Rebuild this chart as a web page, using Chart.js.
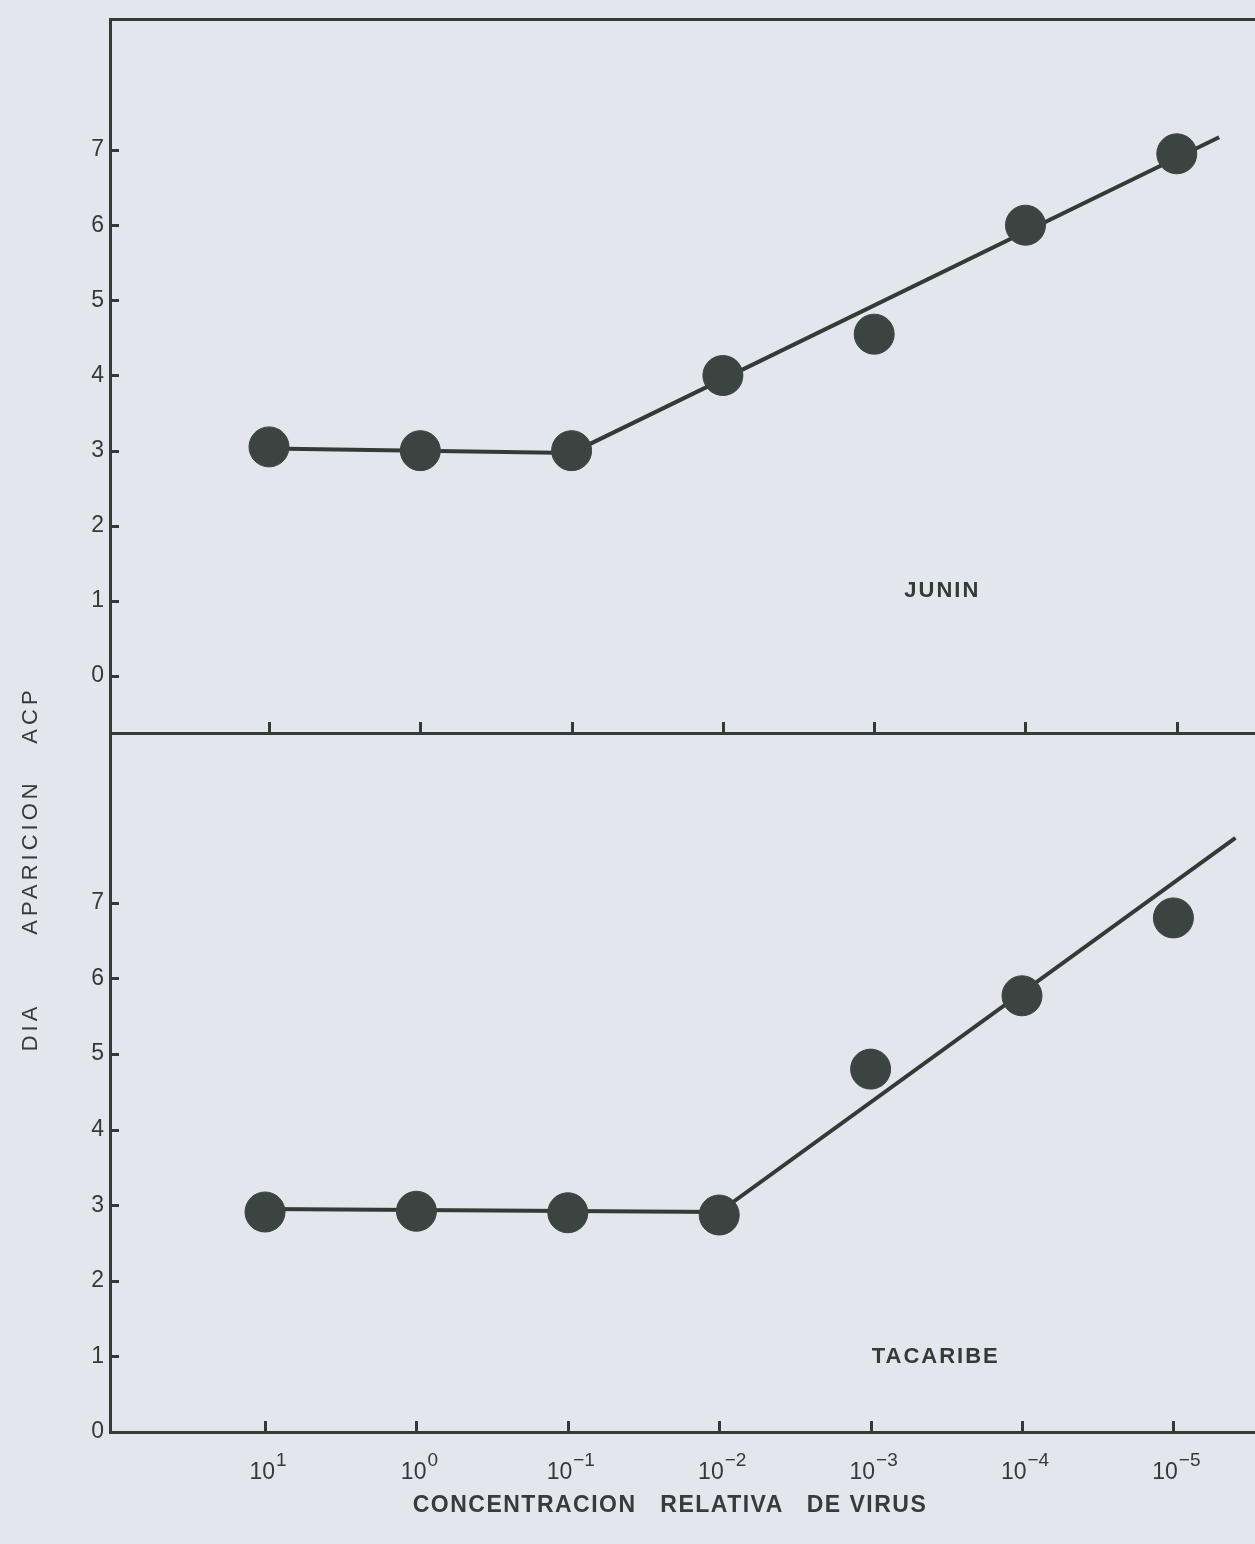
<!DOCTYPE html>
<html>
<head>
<meta charset="utf-8">
<title>Día de aparición de ACP según concentración relativa de virus</title>
<script src="https://cdn.jsdelivr.net/npm/chart.js@4.4.1/dist/chart.umd.min.js"></script>
<style>
  html, body { margin: 0; padding: 0; background: #e3e6ed; }
  #lamina { position: relative; width: 1255px; height: 1544px; background: #e3e6ed; overflow: hidden;
            font-family: "Liberation Sans", Arial, sans-serif; color: #353c39; }
  #lamina canvas { position: absolute; left: 0; }
  #cJunin { top: 0; }
  #cTacaribe { top: 700px; }
  .tituloY { position: absolute; left: 30px; font-size: 22px; letter-spacing: 4px; white-space: nowrap;
             transform: translate(-50%, -50%) rotate(-90deg); }
  #tituloX { position: absolute; left: 670px; top: 1504px; transform: translate(-50%, -50%);
             font-size: 23px; font-weight: bold; letter-spacing: 1.5px; white-space: pre; }
</style>
</head>
<body>
<div id="lamina">
  <canvas id="cJunin" width="1255" height="760"></canvas>
  <canvas id="cTacaribe" width="1255" height="844"></canvas>
  <div class="tituloY" style="top:1027px">DIA</div>
  <div class="tituloY" style="top:857px">APARICION</div>
  <div class="tituloY" style="top:715px">ACP</div>
  <div id="tituloX">CONCENTRACION   RELATIVA   DE VIRUS</div>
</div>
<script>
// Concentración relativa de virus: exponente de 10 (10^1 ... 10^-5)
const concentraciones = [1, 0, -1, -2, -3, -4, -5];
const exponentes = ['1', '0', '−1', '−2', '−3', '−4', '−5'];
const ticksDia = [0, 1, 2, 3, 4, 5, 6, 7];

// Día de aparición de ACP, virus Junín
const diasJunin = [3.05, 3.0, 3.0, 4.0, 4.55, 6.0, 6.95];
// Recta trazada para Junín
const rectaJuninX = [1, -1, -5.28];
const rectaJuninY = [3.03, 2.97, 7.17];

// Día de aparición de ACP, virus Tacaribe
const diasTacaribe = [2.91, 2.92, 2.9, 2.87, 4.8, 5.77, 6.8];
// Recta trazada para Tacaribe
const rectaTacaribeX = [1, -2, -5.41];
const rectaTacaribeY = [2.95, 2.91, 7.86];

const TINTA = '#333b37';
const PUNTO = '#3b4440';
const FUENTE = '"Liberation Sans", Arial, sans-serif';

const pares = (xs, ys) => xs.map((x, i) => ({ x, y: ys[i] }));

// Marcas de división hacia adentro, rótulo del panel y etiquetas 10^n
const marcasInternas = {
  id: 'marcasInternas',
  afterDraw(chart, args, opts) {
    const { ctx, chartArea, scales } = chart;
    const sx = scales.x, sy = scales.y;
    ctx.save();
    ctx.strokeStyle = TINTA;
    ctx.lineWidth = 3;
    sy.ticks.forEach(t => {
      const py = Math.round(sy.getPixelForValue(t.value)) + 0.5;
      ctx.beginPath(); ctx.moveTo(chartArea.left, py); ctx.lineTo(chartArea.left + 9, py); ctx.stroke();
    });
    concentraciones.forEach(c => {
      const px = Math.round(sx.getPixelForValue(c)) + 0.5;
      ctx.beginPath(); ctx.moveTo(px, chartArea.bottom); ctx.lineTo(px, chartArea.bottom - 11); ctx.stroke();
    });
    ctx.fillStyle = TINTA;
    ctx.font = 'bold 22px ' + FUENTE;
    ctx.letterSpacing = '2px';
    ctx.textAlign = 'center';
    ctx.textBaseline = 'middle';
    ctx.fillText(opts.rotulo, sx.getPixelForValue(opts.rotuloX), sy.getPixelForValue(opts.rotuloY));
    ctx.letterSpacing = '0px';
    if (opts.etiquetas) {
      ctx.textBaseline = 'alphabetic';
      ctx.textAlign = 'left';
      const base = chartArea.bottom + 47;
      concentraciones.forEach((c, i) => {
        ctx.font = '23px ' + FUENTE;
        const wBase = ctx.measureText('10').width;
        ctx.font = '19px ' + FUENTE;
        const wExp = ctx.measureText(exponentes[i]).width;
        const x0 = sx.getPixelForValue(c) + 3 - (wBase + 1 + wExp) / 2;
        ctx.font = '23px ' + FUENTE;
        ctx.fillText('10', x0, base);
        ctx.font = '19px ' + FUENTE;
        ctx.fillText(exponentes[i], x0 + wBase + 1, base - 13);
      });
    }
    ctx.restore();
  }
};

function opcionesPanel(cfg) {
  return {
    responsive: false,
    devicePixelRatio: 1,
    animation: false,
    layout: { autoPadding: false, padding: { top: cfg.arriba, left: 0, right: 0, bottom: 0 } },
    plugins: {
      legend: { display: false },
      tooltip: { enabled: false },
      marcasInternas: cfg.marcas
    },
    scales: {
      x: {
        type: 'linear', position: 'bottom', reverse: true,
        min: cfg.xMin, max: cfg.xMax,
        ticks: { display: false },
        grid: { display: false, drawTicks: false },
        border: { display: true, color: TINTA, width: 3 },
        afterFit: s => { s.height = cfg.altoX; }
      },
      ...(cfg.marco ? {
        xMarco: {
          type: 'linear', position: 'top', reverse: true,
          min: cfg.xMin, max: cfg.xMax,
          ticks: { display: false },
          grid: { display: false, drawTicks: false },
          border: { display: true, color: TINTA, width: 3 },
          afterFit: s => { s.height = 0; }
        }
      } : {}),
      y: {
        type: 'linear', position: 'left',
        min: cfg.yMin, max: cfg.yMax,
        afterBuildTicks: s => { s.ticks = ticksDia.map(v => ({ value: v })); },
        ticks: { color: TINTA, padding: 6, font: { family: FUENTE, size: 23 }, callback: v => String(v) },
        grid: { display: false, drawTicks: false },
        border: { display: true, color: TINTA, width: 3 },
        afterFit: s => { s.width = 110; }
      }
    }
  };
}

function conjuntos(dias, rx, ry) {
  return [
    {
      type: 'scatter', label: 'observado', order: 0,
      data: pares(concentraciones, dias),
      pointRadius: 20, pointBackgroundColor: PUNTO, pointBorderColor: PUNTO, pointBorderWidth: 1,
      showLine: false
    },
    {
      type: 'line', label: 'recta', order: 1,
      data: pares(rx, ry),
      borderColor: TINTA, borderWidth: 4, pointRadius: 0, tension: 0, fill: false
    }
  ];
}

new Chart(document.getElementById('cJunin'), {
  type: 'scatter',
  data: { datasets: conjuntos(diasJunin, rectaJuninX, rectaJuninY) },
  options: opcionesPanel({
    arriba: 12, altoX: 27, marco: true,
    xMin: -5.517, xMax: 2.051, yMin: -0.757, yMax: 8.733,
    marcas: { rotulo: 'JUNIN', rotuloX: -3.45, rotuloY: 1.13, etiquetas: false }
  }),
  plugins: [marcasInternas]
});

new Chart(document.getElementById('cTacaribe'), {
  type: 'scatter',
  data: { datasets: conjuntos(diasTacaribe, rectaTacaribeX, rectaTacaribeY) },
  options: opcionesPanel({
    arriba: 33, altoX: 112, marco: false,
    xMin: -5.539, xMax: 2.024, yMin: 0, yMax: 9.246,
    marcas: { rotulo: 'TACARIBE', rotuloX: -3.43, rotuloY: 0.99, etiquetas: true }
  }),
  plugins: [marcasInternas]
});
</script>
</body>
</html>
